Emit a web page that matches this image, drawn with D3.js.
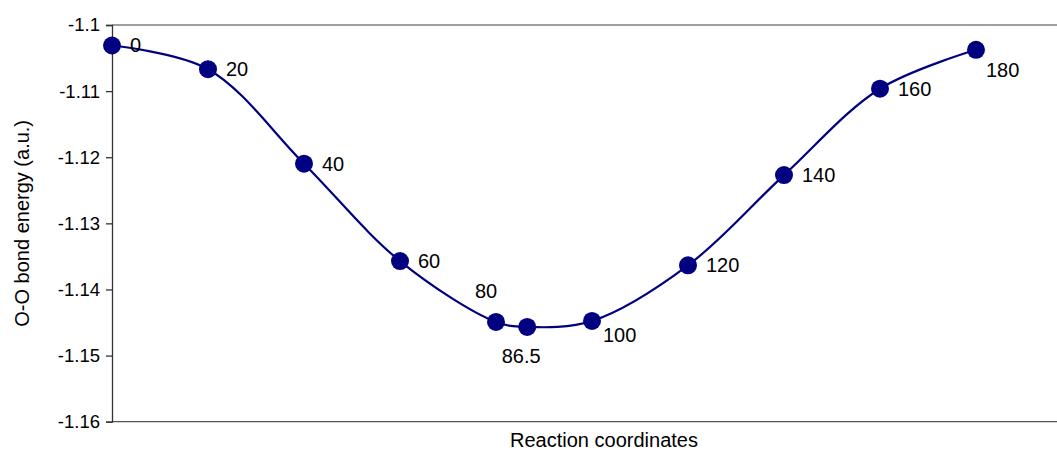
<!DOCTYPE html>
<html>
<head>
<meta charset="utf-8">
<script src="https://cdn.jsdelivr.net/npm/d3@7"></script>
<style>
  html, body { margin: 0; padding: 0; background: #fff; }
  svg { display: block; font-family: "Liberation Sans", Arial, sans-serif; }
</style>
</head>
<body>
<svg id="chart" width="1057" height="453"></svg>
<script>
// ---- data ----
const coords   = [0, 20, 40, 60, 80, 86.5, 100, 120, 140, 160, 180];
const energies = [-1.1031, -1.10668, -1.12098, -1.1357, -1.14491, -1.14567, -1.14476, -1.13635, -1.1227, -1.10964, -1.10375];
const pointLabels = ["0", "20", "40", "60", "80", "86.5", "100", "120", "140", "160", "180"];
const labelPlacement = ["right", "right", "right", "right", "above", "below", "belowright", "right", "right", "right", "belowright"];
const yTicks = [-1.1, -1.11, -1.12, -1.13, -1.14, -1.15, -1.16];
const yTitle = "O-O bond energy (a.u.)";
const xTitle = "Reaction coordinates";

// ---- layout ----
const W = 1057, H = 453;
const padL = 112, padT = 25, padB = 421.7;
const svg = d3.select("#chart");

const x = d3.scaleLinear().domain([0, 180]).range([112, 976]);
const y = d3.scaleLinear().domain([-1.16, -1.1]).range([padB, padT]);
const plotRight = 1100;

// plot border top & bottom
svg.append("line").attr("x1", padL).attr("x2", W).attr("y1", padT).attr("y2", padT)
  .attr("stroke", "#7f7f7f").attr("stroke-width", 1.3);
svg.append("line").attr("x1", padL).attr("x2", W).attr("y1", padB).attr("y2", padB)
  .attr("stroke", "#555").attr("stroke-width", 1.3);

// y axis
const yAxis = d3.axisLeft(y).tickValues(yTicks).tickSize(6).tickPadding(6)
  .tickFormat(d => String(+d.toFixed(2)));
const gy = svg.append("g").attr("transform", `translate(${padL},0)`).call(yAxis);
gy.select(".domain").attr("stroke", "#333").attr("stroke-width", 1.3);
gy.selectAll(".tick line").attr("stroke", "#333").attr("stroke-width", 1.3);
gy.selectAll(".tick text").attr("font-size", "18.5px").attr("fill", "#000")
  .attr("font-family", "Liberation Sans, Arial, sans-serif");

// titles
const midY = (padT + padB) / 2;
svg.append("text").attr("x", 22).attr("y", midY)
  .attr("transform", `rotate(-90, 22, ${midY})`)
  .attr("text-anchor", "middle").attr("dominant-baseline", "central")
  .attr("font-size", "20px").text(yTitle);
svg.append("text").attr("x", (padL + plotRight) / 2 - 2).attr("y", 447)
  .attr("text-anchor", "middle").attr("font-size", "20px").text(xTitle);

// curve
const pts = coords.map((c, i) => [c, energies[i]]);
const line = d3.line().x(d => x(d[0])).y(d => y(d[1])).curve(d3.curveCatmullRom.alpha(0.5));
svg.append("path").attr("d", line(pts)).attr("fill", "none")
  .attr("stroke", "#000080").attr("stroke-width", 2.2);

// markers
svg.selectAll("circle.pt").data(pts).enter().append("circle")
  .attr("class", "pt").attr("cx", d => x(d[0])).attr("cy", d => y(d[1]))
  .attr("r", 9).attr("fill", "#000080");

// labels
const offs = {
  right:      { dx: 18, dy: 0,  anchor: "start" },
  above:      { dx: -10, dy: -31, anchor: "middle" },
  below:      { dx: -6, dy: 29, anchor: "middle" },
  belowright: { dx: 11, dy: 14, anchor: "start" }
};
svg.selectAll("text.lbl").data(pts).enter().append("text")
  .attr("class", "lbl")
  .attr("x", (d, i) => x(d[0]) + offs[labelPlacement[i]].dx + (i === 10 ? -1 : 0))
  .attr("y", (d, i) => y(d[1]) + offs[labelPlacement[i]].dy + (i === 10 ? 6 : 0))
  .attr("text-anchor", (d, i) => offs[labelPlacement[i]].anchor)
  .attr("dominant-baseline", "central")
  .attr("font-size", "20px").attr("fill", "#000")
  .text((d, i) => pointLabels[i]);
</script>
</body>
</html>
